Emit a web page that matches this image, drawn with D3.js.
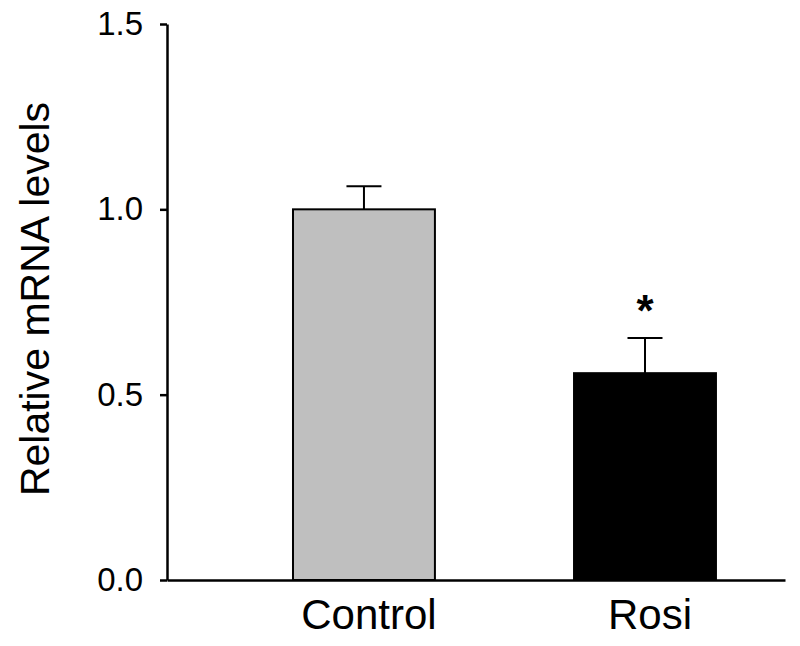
<!DOCTYPE html>
<html>
<head>
<meta charset="utf-8">
<script src="https://cdn.jsdelivr.net/npm/d3@7"></script>
<style>
  body { margin: 0; background: #fff; }
  text { font-family: "Liberation Sans", Arial, sans-serif; fill: #000; }
  .axis path, .axis line { stroke: #000; stroke-width: 2.5; }
</style>
</head>
<body>
<script>
//data
const categories = ["Control", "Rosi"];
const values = [1.0, 0.558];
const errors = [0.062, 0.095];
const barColors = ["#bfbfbf", "#000000"];
const yTicks = [0, 0.5, 1.0, 1.5];
const significant = [false, true];

const w = 800;
const h = 646;

const data = categories.map((c, i) => ({
    cat: c, val: values[i], err: errors[i], color: barColors[i], sig: significant[i]
}));

//scales
const xScale = d3.scaleBand()
    .domain(categories)
    .range([167, 785])
    .paddingInner(0.495)
    .paddingOuter(0.347)
    .align(0.646);

const yScale = d3.scaleLinear()
    .domain([0, 1.5])
    .range([580, 24]);

const svg = d3.select("body")
    .append("svg")
    .attr("width", w)
    .attr("height", h);

//bars
svg.selectAll(".bar")
    .data(data)
    .enter()
    .append("rect")
    .attr("class", "bar")
    .attr("x", d => xScale(d.cat))
    .attr("y", d => yScale(d.val))
    .attr("width", xScale.bandwidth())
    .attr("height", d => yScale(0) - yScale(d.val))
    .attr("fill", d => d.color)
    .attr("stroke", "#000")
    .attr("stroke-width", 2);

//error bars (upper only)
const cx = d => xScale(d.cat) + xScale.bandwidth() / 2;
const capW = 35;

svg.selectAll(".err")
    .data(data)
    .enter()
    .append("line")
    .attr("x1", cx)
    .attr("x2", cx)
    .attr("y1", d => yScale(d.val))
    .attr("y2", d => yScale(d.val + d.err))
    .attr("stroke", "#000")
    .attr("stroke-width", 2);

svg.selectAll(".cap")
    .data(data)
    .enter()
    .append("line")
    .attr("x1", d => cx(d) - capW / 2)
    .attr("x2", d => cx(d) + capW / 2)
    .attr("y1", d => yScale(d.val + d.err))
    .attr("y2", d => yScale(d.val + d.err))
    .attr("stroke", "#000")
    .attr("stroke-width", 2);

//significance star
svg.selectAll(".star")
    .data(data.filter(d => d.sig))
    .enter()
    .append("text")
    .attr("x", cx)
    .attr("y", d => yScale(d.val + d.err) - 12)
    .attr("text-anchor", "middle")
    .style("font-size", "44px")
    .style("font-weight", "bold")
    .text("*");

//axes
const bottomAxis = d3.axisBottom(xScale)
    .tickSize(0)
    .tickPadding(19);

const leftAxis = d3.axisLeft(yScale)
    .tickValues(yTicks)
    .tickFormat(d3.format(".1f"))
    .tickSizeInner(7)
    .tickSizeOuter(0)
    .tickPadding(17);

svg.append("g")
    .attr("class", "axis")
    .attr("transform", "translate(0," + yScale(0) + ")")
    .call(bottomAxis)
    .selectAll("text")
    .attr("dx", 5)
    .style("font-size", "42px");

svg.append("g")
    .attr("class", "axis")
    .attr("transform", "translate(167,0)")
    .call(leftAxis)
    .selectAll("text")
    .style("font-size", "33px");

svg.selectAll(".axis text").attr("font-family", null);

//y axis title
svg.append("text")
    .attr("transform", "translate(49,299) rotate(-90)")
    .attr("text-anchor", "middle")
    .style("font-size", "41px")
    .text("Relative mRNA levels");
</script>
</body>
</html>
